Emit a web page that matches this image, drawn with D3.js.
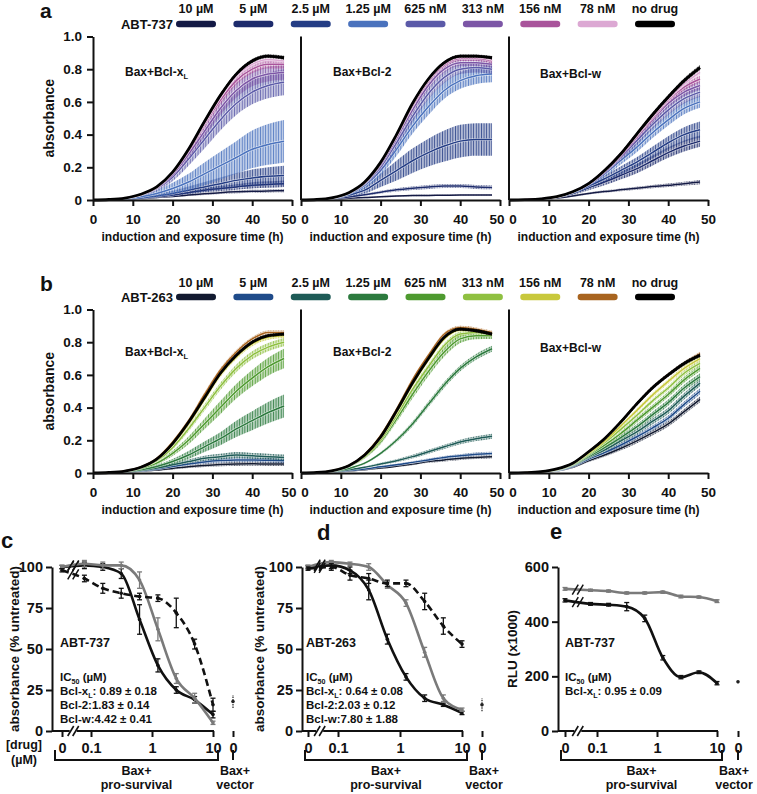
<!DOCTYPE html>
<html><head><meta charset="utf-8">
<script src="https://cdn.jsdelivr.net/npm/d3@7"></script>
<style>
body{margin:0;background:#fff}
svg{display:block}
text{font-family:"Liberation Sans",Arial,Helvetica,sans-serif;font-weight:bold;fill:#111}
</style>
</head><body>
<svg id="fig" width="757" height="794"></svg>
<script>
// ---------------- DATA ----------------
const times = [0,4,8,12,16,20,24,28,32,36,40,44,48];
const concLabels = ["10 µM","5 µM","2.5 µM","1.25 µM","625 nM","313 nM","156 nM","78 nM","no drug"];
const timeTicks = [0,10,20,30,40,50];
const absTicks = [0,0.2,0.4,0.6,0.8,1.0];
const colors737 = ["#141a45","#1d2b6c","#243d85","#4a72bd","#5b5aa8","#7c56a6","#a9549b","#dca8d3","#000000"];
const colors263 = ["#121a30","#1f4b8a","#1e5b57","#2c7a3e","#4e9a2f","#8fc041","#c8c83c","#a8641f","#000000"];

// ABT-737, Bax+Bcl-xL
const a737_xL_mean = [
 [0,0,0.003,0.008,0.015,0.022,0.030,0.038,0.045,0.050,0.053,0.055,0.057],
 [0,0,0.004,0.010,0.020,0.030,0.045,0.060,0.070,0.080,0.090,0.095,0.100],
 [0,0,0.005,0.012,0.025,0.040,0.060,0.080,0.100,0.120,0.135,0.145,0.150],
 [0,0,0.008,0.020,0.040,0.070,0.110,0.160,0.210,0.260,0.310,0.340,0.360],
 [0,0.003,0.011,0.030,0.070,0.140,0.250,0.370,0.490,0.590,0.660,0.700,0.720],
 [0,0.003,0.011,0.032,0.074,0.155,0.280,0.420,0.560,0.670,0.740,0.770,0.780],
 [0,0.003,0.012,0.034,0.078,0.165,0.300,0.460,0.610,0.730,0.800,0.830,0.830],
 [0,0.003,0.012,0.035,0.080,0.170,0.310,0.470,0.630,0.760,0.830,0.860,0.850],
 [0,0.003,0.012,0.035,0.080,0.170,0.310,0.480,0.640,0.770,0.850,0.880,0.870]];
const a737_xL_sd = [
 [0,0,0.002,0.003,0.004,0.005,0.006,0.007,0.008,0.008,0.009,0.009,0.010],
 [0,0,0.002,0.004,0.006,0.008,0.010,0.013,0.015,0.017,0.019,0.020,0.020],
 [0,0,0.003,0.006,0.010,0.015,0.022,0.030,0.038,0.045,0.052,0.056,0.060],
 [0,0,0.004,0.010,0.020,0.035,0.050,0.070,0.085,0.100,0.115,0.125,0.130],
 [0,0.001,0.003,0.008,0.015,0.025,0.040,0.055,0.065,0.070,0.075,0.078,0.080],
 [0,0.001,0.003,0.006,0.010,0.018,0.028,0.035,0.040,0.045,0.045,0.045,0.045],
 [0,0.001,0.002,0.004,0.008,0.012,0.018,0.022,0.025,0.025,0.025,0.025,0.025],
 [0,0.001,0.002,0.003,0.006,0.010,0.014,0.016,0.018,0.018,0.018,0.018,0.018],
 [0,0.001,0.002,0.003,0.005,0.008,0.010,0.012,0.012,0.012,0.012,0.012,0.012]];
// ABT-737, Bax+Bcl-2
const a737_b2_mean = [
 [0,0,0.004,0.010,0.015,0.020,0.024,0.027,0.028,0.029,0.030,0.030,0.030],
 [0,0.001,0.007,0.018,0.032,0.048,0.062,0.072,0.080,0.085,0.085,0.080,0.077],
 [0,0.002,0.010,0.030,0.060,0.120,0.180,0.240,0.290,0.330,0.360,0.370,0.370],
 [0,0.003,0.013,0.038,0.090,0.180,0.310,0.450,0.570,0.670,0.730,0.760,0.770],
 [0,0.003,0.014,0.041,0.100,0.200,0.350,0.510,0.650,0.750,0.800,0.810,0.800],
 [0,0.003,0.014,0.043,0.105,0.215,0.375,0.550,0.700,0.800,0.840,0.840,0.830],
 [0,0.003,0.015,0.044,0.108,0.225,0.390,0.575,0.725,0.825,0.865,0.865,0.850],
 [0,0.003,0.015,0.045,0.110,0.230,0.395,0.585,0.735,0.835,0.875,0.875,0.860],
 [0,0.003,0.015,0.045,0.110,0.230,0.400,0.590,0.740,0.840,0.880,0.880,0.870]];
const a737_b2_sd = [
 [0,0,0.002,0.003,0.004,0.004,0.005,0.005,0.005,0.005,0.005,0.005,0.005],
 [0,0,0.002,0.004,0.006,0.008,0.010,0.011,0.012,0.012,0.012,0.012,0.012],
 [0,0.001,0.004,0.010,0.020,0.040,0.060,0.075,0.085,0.095,0.100,0.100,0.100],
 [0,0.001,0.004,0.010,0.020,0.030,0.040,0.045,0.050,0.050,0.050,0.050,0.050],
 [0,0.001,0.003,0.008,0.015,0.025,0.030,0.035,0.035,0.035,0.030,0.030,0.030],
 [0,0.001,0.003,0.006,0.010,0.015,0.020,0.022,0.022,0.020,0.020,0.020,0.020],
 [0,0.001,0.002,0.004,0.008,0.012,0.015,0.015,0.015,0.015,0.015,0.015,0.015],
 [0,0.001,0.002,0.003,0.006,0.010,0.012,0.012,0.012,0.012,0.012,0.012,0.012],
 [0,0.001,0.002,0.003,0.005,0.008,0.010,0.010,0.010,0.010,0.010,0.010,0.010]];
// ABT-737, Bax+Bcl-w
const a737_bw_mean = [
 [0,0.001,0.004,0.012,0.025,0.040,0.052,0.062,0.072,0.082,0.090,0.100,0.110],
 [0,0.002,0.006,0.018,0.040,0.075,0.110,0.150,0.190,0.240,0.290,0.330,0.360],
 [0,0.002,0.006,0.019,0.045,0.085,0.130,0.180,0.230,0.290,0.350,0.400,0.430],
 [0,0.002,0.007,0.020,0.048,0.095,0.160,0.240,0.320,0.410,0.490,0.560,0.600],
 [0,0.002,0.007,0.020,0.049,0.097,0.170,0.260,0.360,0.460,0.550,0.620,0.660],
 [0,0.002,0.007,0.020,0.050,0.098,0.175,0.270,0.380,0.490,0.590,0.660,0.700],
 [0,0.002,0.007,0.020,0.050,0.099,0.178,0.275,0.390,0.500,0.610,0.690,0.740],
 [0,0.002,0.007,0.020,0.050,0.100,0.180,0.280,0.395,0.510,0.620,0.710,0.780],
 [0,0.002,0.007,0.020,0.050,0.100,0.180,0.280,0.400,0.520,0.630,0.730,0.810]];
const a737_bw_sd = [
 [0,0,0.002,0.004,0.005,0.006,0.007,0.008,0.009,0.010,0.011,0.012,0.013],
 [0,0.001,0.002,0.005,0.010,0.015,0.020,0.025,0.028,0.030,0.032,0.034,0.035],
 [0,0.001,0.002,0.005,0.010,0.015,0.020,0.025,0.030,0.035,0.040,0.045,0.050],
 [0,0.001,0.002,0.005,0.010,0.015,0.020,0.025,0.030,0.033,0.035,0.036,0.036],
 [0,0.001,0.002,0.005,0.008,0.012,0.018,0.022,0.026,0.028,0.030,0.030,0.030],
 [0,0.001,0.002,0.004,0.007,0.010,0.014,0.018,0.020,0.022,0.024,0.025,0.025],
 [0,0.001,0.002,0.004,0.006,0.009,0.012,0.015,0.018,0.020,0.020,0.020,0.020],
 [0,0.001,0.002,0.003,0.005,0.008,0.010,0.012,0.014,0.015,0.016,0.016,0.016],
 [0,0.001,0.002,0.003,0.005,0.007,0.009,0.011,0.012,0.013,0.014,0.015,0.015]];

// ABT-263, Bax+Bcl-xL
const a263_xL_mean = [
 [0,0.001,0.004,0.010,0.018,0.028,0.038,0.046,0.052,0.055,0.056,0.055,0.055],
 [0,0.001,0.005,0.012,0.024,0.040,0.055,0.068,0.076,0.080,0.080,0.078,0.075],
 [0,0.001,0.006,0.015,0.030,0.050,0.070,0.090,0.100,0.110,0.105,0.100,0.095],
 [0,0.002,0.008,0.020,0.040,0.070,0.110,0.160,0.210,0.270,0.320,0.370,0.410],
 [0,0.002,0.010,0.028,0.060,0.120,0.200,0.300,0.400,0.500,0.580,0.650,0.700],
 [0,0.003,0.011,0.032,0.075,0.155,0.270,0.400,0.530,0.640,0.720,0.770,0.800],
 [0,0.003,0.012,0.035,0.083,0.175,0.300,0.450,0.600,0.710,0.790,0.830,0.840],
 [0,0.003,0.013,0.037,0.090,0.190,0.320,0.480,0.630,0.740,0.820,0.860,0.860],
 [0,0.003,0.012,0.035,0.085,0.180,0.310,0.460,0.610,0.720,0.800,0.840,0.850]];
const a263_xL_sd = [
 [0,0,0.002,0.003,0.004,0.006,0.008,0.010,0.011,0.012,0.012,0.012,0.012],
 [0,0,0.002,0.003,0.005,0.007,0.009,0.011,0.012,0.013,0.013,0.013,0.013],
 [0,0,0.002,0.004,0.006,0.009,0.012,0.015,0.017,0.018,0.018,0.018,0.018],
 [0,0.001,0.003,0.006,0.010,0.016,0.024,0.032,0.040,0.050,0.058,0.065,0.070],
 [0,0.001,0.003,0.006,0.010,0.016,0.024,0.032,0.040,0.045,0.050,0.055,0.060],
 [0,0.001,0.002,0.005,0.008,0.012,0.016,0.020,0.022,0.024,0.025,0.025,0.025],
 [0,0.001,0.002,0.004,0.006,0.009,0.012,0.014,0.015,0.015,0.015,0.015,0.015],
 [0,0.001,0.002,0.003,0.005,0.008,0.010,0.012,0.012,0.012,0.012,0.012,0.012],
 [0,0.001,0.002,0.003,0.005,0.007,0.009,0.010,0.010,0.010,0.010,0.010,0.010]];
// ABT-263, Bax+Bcl-2
const a263_b2_mean = [
 [0,0.001,0.005,0.012,0.020,0.030,0.042,0.055,0.070,0.080,0.090,0.095,0.100],
 [0,0.002,0.006,0.015,0.025,0.038,0.050,0.065,0.080,0.095,0.105,0.115,0.120],
 [0,0.002,0.008,0.020,0.035,0.055,0.075,0.100,0.130,0.160,0.190,0.210,0.225],
 [0,0.002,0.010,0.028,0.060,0.120,0.200,0.300,0.420,0.540,0.640,0.710,0.760],
 [0,0.003,0.013,0.040,0.095,0.190,0.330,0.480,0.620,0.740,0.820,0.840,0.840],
 [0,0.003,0.014,0.042,0.100,0.200,0.350,0.510,0.650,0.780,0.850,0.860,0.850],
 [0,0.003,0.015,0.044,0.108,0.215,0.370,0.540,0.690,0.820,0.875,0.870,0.850],
 [0,0.003,0.016,0.047,0.115,0.230,0.390,0.570,0.720,0.850,0.890,0.880,0.860],
 [0,0.003,0.015,0.045,0.110,0.220,0.380,0.550,0.700,0.830,0.880,0.870,0.850]];
const a263_b2_sd = [
 [0,0,0.002,0.003,0.004,0.005,0.006,0.007,0.008,0.009,0.010,0.010,0.010],
 [0,0,0.002,0.003,0.004,0.005,0.006,0.007,0.008,0.009,0.010,0.010,0.010],
 [0,0,0.002,0.003,0.005,0.007,0.009,0.011,0.012,0.013,0.014,0.015,0.015],
 [0,0.001,0.002,0.004,0.006,0.009,0.012,0.015,0.017,0.018,0.018,0.018,0.018],
 [0,0.001,0.002,0.005,0.008,0.014,0.020,0.025,0.028,0.028,0.025,0.022,0.020],
 [0,0.001,0.002,0.004,0.006,0.010,0.014,0.016,0.016,0.015,0.014,0.013,0.012],
 [0,0.001,0.002,0.003,0.005,0.008,0.010,0.011,0.011,0.011,0.010,0.010,0.010],
 [0,0.001,0.002,0.003,0.005,0.007,0.009,0.010,0.010,0.010,0.010,0.010,0.010],
 [0,0.001,0.002,0.003,0.005,0.007,0.009,0.010,0.010,0.010,0.010,0.010,0.010]];
// ABT-263, Bax+Bcl-w
const a263_bw_mean = [
 [0,0.001,0.004,0.012,0.035,0.075,0.110,0.150,0.195,0.245,0.300,0.375,0.450],
 [0,0.001,0.005,0.014,0.040,0.085,0.125,0.170,0.220,0.275,0.335,0.420,0.500],
 [0,0.002,0.006,0.016,0.045,0.095,0.140,0.195,0.250,0.315,0.380,0.470,0.550],
 [0,0.002,0.006,0.018,0.048,0.100,0.155,0.215,0.280,0.355,0.430,0.520,0.590],
 [0,0.002,0.007,0.020,0.052,0.110,0.170,0.240,0.320,0.400,0.480,0.570,0.640],
 [0,0.002,0.007,0.021,0.055,0.115,0.185,0.265,0.350,0.440,0.520,0.610,0.670],
 [0,0.002,0.008,0.023,0.058,0.122,0.195,0.285,0.380,0.475,0.560,0.640,0.700],
 [0,0.002,0.008,0.025,0.060,0.130,0.210,0.310,0.420,0.520,0.600,0.670,0.730],
 [0,0.002,0.008,0.025,0.060,0.130,0.210,0.310,0.420,0.520,0.600,0.670,0.720]];
const a263_bw_sd = [
 [0,0.001,0.002,0.004,0.006,0.008,0.010,0.012,0.014,0.015,0.016,0.017,0.018],
 [0,0.001,0.002,0.004,0.006,0.008,0.010,0.012,0.014,0.015,0.016,0.017,0.018],
 [0,0.001,0.002,0.004,0.006,0.009,0.012,0.014,0.016,0.018,0.019,0.020,0.020],
 [0,0.001,0.002,0.004,0.006,0.009,0.012,0.014,0.016,0.018,0.019,0.020,0.020],
 [0,0.001,0.002,0.004,0.006,0.008,0.011,0.013,0.015,0.016,0.017,0.018,0.018],
 [0,0.001,0.002,0.003,0.005,0.007,0.009,0.011,0.012,0.013,0.014,0.015,0.015],
 [0,0.001,0.002,0.003,0.005,0.007,0.009,0.011,0.012,0.013,0.014,0.015,0.015],
 [0,0.001,0.002,0.003,0.005,0.007,0.009,0.010,0.011,0.012,0.012,0.012,0.012],
 [0,0.001,0.002,0.003,0.005,0.007,0.009,0.010,0.011,0.012,0.012,0.012,0.012]];

// Dose-response panels (first value = no drug "0", then doses)
const doses = [0.078,0.156,0.313,0.625,1.25,2.5,5,10];
const doseTicks = [0.1,1,10];
const pctTicks = [0,25,50,75,100];
const rluTicks = [0,200,400,600];
// c: ABT-737, absorbance % untreated
const c_BclxL = [100,101,100,96,68,40,25,19,10];
const c_BclxL_err = [1,2,2,3,9,4,2,2,2];
const c_Bcl2 = [100,102,101,101,92,62,32,20,5];
const c_Bcl2_err = [1,2,2,2,5,7,3,3,1];
const c_Bclw = [98,93,87,84,82,81,72,53,16];
const c_Bclw_err = [1,2,3,3,2,2,9,3,4];
const c_vector = [18], c_vector_err = [4];
// d: ABT-263
const d_BclxL = [100,101,98,86,56,33,20,16,11];
const d_BclxL_err = [1,2,2,6,3,2,2,1,1];
const d_Bcl2 = [100,103,102,100,89,78,48,20,13];
const d_Bcl2_err = [1,1,1,2,2,2,3,2,1];
const d_Bclw = [99,100,95,93,90,90,79,64,53];
const d_Bclw_err = [1,2,3,3,2,2,5,5,2];
const d_vector = [16], d_vector_err = [4];
// e: ABT-737 RLU (x1000)
const e_gray = [520,515,512,505,505,508,492,490,475];
const e_gray_err = [5,4,4,4,4,4,5,4,5];
const e_BclxL = [478,465,462,455,412,268,197,215,175];
const e_BclxL_err = [6,5,5,15,12,8,6,5,6];
const e_vector = [180], e_vector_err = [5];

// ---------------- DRAWING ----------------
const svg = d3.select("#fig");
const defs = svg.append("defs");
const FONT = '"Liberation Sans", Arial, Helvetica, sans-serif';

function hatch(color){
  const id = "h" + color.slice(1);
  if (defs.select("#"+id).empty()){
    const p = defs.append("pattern").attr("id",id).attr("patternUnits","userSpaceOnUse")
      .attr("width",2.6).attr("height",10);
    p.append("rect").attr("width",2.6).attr("height",10).attr("fill",color).attr("fill-opacity",0.35);
    p.append("rect").attr("width",0.9).attr("height",10).attr("fill",color).attr("fill-opacity",0.85);
  }
  return id;
}
function styleAxis(g, size){
  g.attr("font-family",FONT).attr("font-size",size).attr("font-weight","bold");
  g.selectAll("path,line").attr("stroke","#111").attr("stroke-width",2);
  g.selectAll("text").attr("fill","#111");
}
function label(x,y,s,size,anchor){
  return svg.append("text").attr("x",x).attr("y",y).attr("font-size",size)
    .attr("text-anchor",anchor||"start").text(s);
}
function subL(t, base, sub, rest, size){
  t.text(null);
  t.append("tspan").text(base);
  t.append("tspan").attr("dy",2.5).attr("font-size",size*0.62).text(sub);
  t.append("tspan").attr("dy",-2.5).text(rest||"");
}

const subX = [93,301,509], subW = 199;
const legendX = d3.scalePoint().domain(concLabels).range([196,655]);
const subTitles = [["Bax+Bcl-x","L",""],["Bax+Bcl-2","",""],["Bax+Bcl-w","",""]];

function drawTimePanel(P){
  const y = d3.scaleLinear().domain([0,1]).range([P.yBase, P.yTop]);
  label(40, P.letterY, P.letter, 21);
  label(173, P.legBarY+5, P.drug, 13, "end");
  concLabels.forEach((c,i)=>{
    label(legendX(c), P.legTextY, c, 12.5, "middle");
    svg.append("rect").attr("x",legendX(c)-20).attr("y",P.legBarY-3.2).attr("width",40)
      .attr("height",6.4).attr("rx",3.2).attr("fill",P.colors[i]);
  });
  svg.append("text").attr("transform",`translate(49,${(P.yBase+P.yTop)/2}) rotate(-90)`)
    .attr("text-anchor","middle").attr("dy","0.35em").attr("font-size",14).text("absorbance");
  P.subs.forEach((sub,k)=>{
    const x = d3.scaleLinear().domain([0,50]).range([subX[k], subX[k]+subW]);
    const g = svg.append("g");
    const area = d3.area().curve(d3.curveMonotoneX).x(d=>x(d.t))
      .y0(d=>y(Math.max(0,d.m-d.e))).y1(d=>y(d.m+d.e));
    const line = d3.line().curve(d3.curveMonotoneX).x(d=>x(d.t)).y(d=>y(d.m));
    sub.mean.forEach((m,s)=>{
      const pts = times.map((t,j)=>({t, m:m[j], e:sub.sd[s][j]}));
      const col = P.colors[s];
      g.append("path").attr("d",area(pts)).attr("fill",`url(#${hatch(col)})`);
      g.append("path").attr("d",line(pts)).attr("fill","none").attr("stroke","#fff")
        .attr("stroke-width", s===8?0:2.6).attr("stroke-opacity",0.7);
      g.append("path").attr("d",line(pts)).attr("fill","none").attr("stroke",col)
        .attr("stroke-width", s===8?2.8:1.5);
    });
    const xa = svg.append("g").attr("transform",`translate(0,${P.yBase})`)
      .call(d3.axisBottom(x).tickValues(timeTicks).tickSize(6).tickSizeOuter(0).tickPadding(8).tickFormat(d3.format("d")));
    styleAxis(xa, 13.5);
    // neighbouring "50" and "0" labels sit side by side ("500") without overlapping
    xa.selectAll(".tick text").attr("dx", d => (d===50 && k<2) ? -3.5 : (d===0 && k>0) ? 3.5 : 0);
    if(k===0){
      const ya = svg.append("g").attr("transform",`translate(${subX[k]},0)`)
        .call(d3.axisLeft(y).tickValues(absTicks).tickSize(6).tickSizeOuter(0).tickPadding(5)
          .tickFormat(d=>d===0?"0":d3.format(".1f")(d)));
      styleAxis(ya, 13.5);
    } else {
      svg.append("line").attr("x1",subX[k]).attr("x2",subX[k]).attr("y1",y(0)).attr("y2",y(1))
        .attr("stroke","#111").attr("stroke-width",2);
    }
    label(subX[k]+subW/2, P.yBase+41, "induction and exposure time (h)", 12, "middle");
    const st = subTitles[k];
    const t = label(P.titleX[k], P.titleY[k], "", 12);
    subL(t, st[0], st[1], st[2], 12);
  });
}

drawTimePanel({letter:"a", letterY:18, drug:"ABT-737", yBase:200, yTop:36.5, legTextY:13, legBarY:24,
  colors:colors737, titleX:[125,333,540], titleY:[76,76,78],
  subs:[{mean:a737_xL_mean, sd:a737_xL_sd},{mean:a737_b2_mean, sd:a737_b2_sd},{mean:a737_bw_mean, sd:a737_bw_sd}]});
drawTimePanel({letter:"b", letterY:291, drug:"ABT-263", yBase:473, yTop:309.5, legTextY:287, legBarY:297,
  colors:colors263, titleX:[125,333,540], titleY:[356,356,352],
  subs:[{mean:a263_xL_mean, sd:a263_xL_sd},{mean:a263_b2_mean, sd:a263_b2_sd},{mean:a263_bw_mean, sd:a263_bw_sd}]});

function drawDosePanel(D){
  const y = d3.scaleLinear().domain([0,D.yMax]).range([731,567]);
  const xl = d3.scaleLog().domain([0.1,10]).range([D.x01, D.x10]);
  const tickScale = d3.scaleOrdinal().domain(["z","0.1","1","10","v"])
    .range([D.zeroX, xl(0.1), xl(1), xl(10), D.vecX]);
  // axes
  svg.append("line").attr("x1",D.axisX).attr("x2",xl(10)+1).attr("y1",731).attr("y2",731)
    .attr("stroke","#111").attr("stroke-width",2);
  const xa = svg.append("g").attr("transform","translate(0,731)")
    .call(d3.axisBottom(tickScale).tickSize(6).tickPadding(6).tickFormat(d=>d==="z"||d==="v"?"0":d));
  xa.select(".domain").remove();
  styleAxis(xa, 14.5);
  const ya = svg.append("g").attr("transform",`translate(${D.axisX},0)`)
    .call(d3.axisLeft(y).tickValues(D.yTicks).tickSize(6).tickSizeOuter(0).tickPadding(3));
  styleAxis(ya, 14.5);
  const breakX = (D.zeroX + xl(doses[0]))/2;
  svg.append("rect").attr("x",breakX-3.5).attr("y",727).attr("width",7).attr("height",8).attr("fill","#fff");
  [-2.5,2.5].forEach(o=>svg.append("line").attr("x1",breakX+o-3).attr("x2",breakX+o+3)
    .attr("y1",736).attr("y2",726).attr("stroke","#111").attr("stroke-width",1.6));
  // series
  const line = d3.line().curve(d3.curveMonotoneX).x(d=>d.x).y(d=>y(d.v));
  D.series.forEach(S=>{
    const pts = S.vals.map((v,i)=>({x: i===0? D.zeroX : xl(doses[i-1]), v, e:S.err[i]}));
    svg.append("path").attr("d",line(pts)).attr("fill","none").attr("stroke",S.color)
      .attr("stroke-width",2.6).attr("stroke-dasharray",S.dash||null);
    pts.forEach(p=>{
      svg.append("line").attr("x1",p.x).attr("x2",p.x).attr("y1",y(p.v-p.e)).attr("y2",y(p.v+p.e))
        .attr("stroke",S.color).attr("stroke-width",1.3);
      [p.v-p.e,p.v+p.e].forEach(v=>svg.append("line").attr("x1",p.x-2.5).attr("x2",p.x+2.5)
        .attr("y1",y(v)).attr("y2",y(v)).attr("stroke",S.color).attr("stroke-width",1.3));
      svg.append("circle").attr("cx",p.x).attr("cy",y(p.v)).attr("r",1.8).attr("fill",S.color);
    });
    const by = y((S.vals[0]+S.vals[1])/2);
    [-2.5,2.5].forEach(o=>svg.append("line").attr("x1",breakX+o-3).attr("x2",breakX+o+3)
      .attr("y1",by+5).attr("y2",by-5).attr("stroke","#111").attr("stroke-width",1.5));
  });
  // vector point
  const vy = D.vector[0], ve = D.vectorErr[0];
  svg.append("line").attr("x1",D.vecX).attr("x2",D.vecX).attr("y1",y(vy-ve)).attr("y2",y(vy+ve))
    .attr("stroke","#333").attr("stroke-width",1.3).attr("stroke-dasharray","1.5,1");
  svg.append("circle").attr("cx",D.vecX).attr("cy",y(vy)).attr("r",1.8).attr("fill","#222");
  // brackets
  const xL = D.axisX+3, xR = xl(10)+5;
  svg.append("path").attr("d",`M${xL},750V760H${xR}V750`).attr("fill","none").attr("stroke","#111").attr("stroke-width",2);
  svg.append("path").attr("d",`M${D.vecX},750V760`).attr("fill","none").attr("stroke","#111").attr("stroke-width",2);
  const cx = (xL+xR)/2;
  label(cx, 775, "Bax+", 12.5, "middle");
  label(cx, 789, "pro-survival", 12.5, "middle");
  const vx = Math.min(D.vecX+2, 734);
  label(vx, 775, "Bax+", 12.5, "middle");
  label(vx, 789, "vector", 12.5, "middle");
  // labels
  label(D.letterX, D.letterY, D.letter, 22);
  svg.append("text").attr("transform",`translate(${D.ylabX},649) rotate(-90)`)
    .attr("text-anchor","middle").attr("dy","0.35em").attr("font-size",D.ylabSize).text(D.ylab);
  label(D.textX, 647, D.drug, 12.5);
  const ic = label(D.textX, 681, "", 11.5);
  subL(ic, "IC", "50", " (µM)", 11.5);
  D.ics.forEach((s,i)=>{
    const t = label(D.textX, 695 + i*13.8, "", 11.5);
    subL(t, s[0], s[1], s[2], 11.5);
  });
}

drawDosePanel({letter:"c", letterX:1, letterY:548, axisX:52, zeroX:62, x01:91, x10:213, vecX:233,
  yMax:100, yTicks:pctTicks, ylab:"absorbance (% untreated)", ylabX:14, ylabSize:13.5,
  drug:"ABT-737", textX:60,
  ics:[["Bcl-x","L",": 0.89 ± 0.18"],["Bcl-2:1.83 ± 0.14","",""],["Bcl-w:4.42 ± 0.41","",""]],
  series:[{vals:c_BclxL, err:c_BclxL_err, color:"#111"},
          {vals:c_Bcl2, err:c_Bcl2_err, color:"#7a7a7a"},
          {vals:c_Bclw, err:c_Bclw_err, color:"#111", dash:"7,4"}],
  vector:c_vector, vectorErr:c_vector_err});
label(24, 749, "[drug]", 12.5, "middle");
label(24, 764, "(µM)", 12.5, "middle");

drawDosePanel({letter:"d", letterX:317, letterY:540, axisX:302, zeroX:308, x01:338, x10:462, vecX:482,
  yMax:100, yTicks:pctTicks, ylab:"absorbance (% untreated)", ylabX:259, ylabSize:13.5,
  drug:"ABT-263", textX:306,
  ics:[["Bcl-x","L",": 0.64 ± 0.08"],["Bcl-2:2.03 ± 0.12","",""],["Bcl-w:7.80 ± 1.88","",""]],
  series:[{vals:d_BclxL, err:d_BclxL_err, color:"#111"},
          {vals:d_Bcl2, err:d_Bcl2_err, color:"#7a7a7a"},
          {vals:d_Bclw, err:d_Bclw_err, color:"#111", dash:"7,4"}],
  vector:d_vector, vectorErr:d_vector_err});

drawDosePanel({letter:"e", letterX:550, letterY:539, axisX:558, zeroX:565, x01:597, x10:717, vecX:738,
  yMax:600, yTicks:rluTicks, ylab:"RLU (x1000)", ylabX:512, ylabSize:13.5,
  drug:"ABT-737", textX:565,
  ics:[["Bcl-x","L",": 0.95 ± 0.09"]],
  series:[{vals:e_gray, err:e_gray_err, color:"#7a7a7a"},
          {vals:e_BclxL, err:e_BclxL_err, color:"#111"}],
  vector:e_vector, vectorErr:e_vector_err});
</script>
</body></html>
